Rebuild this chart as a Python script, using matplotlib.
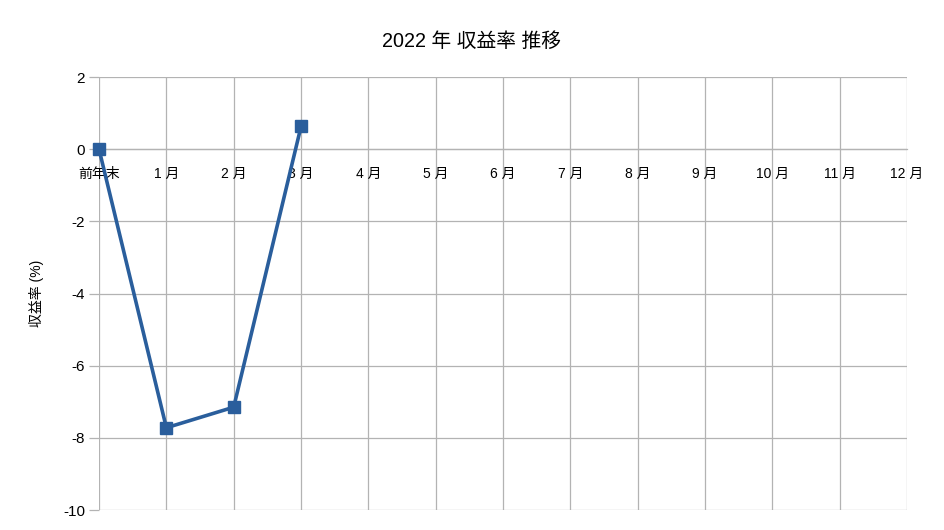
import matplotlib
matplotlib.use("Agg")
import matplotlib.pyplot as plt

plt.rcParams["font.family"] = ["Liberation Sans", "Noto Sans CJK JP", "DejaVu Sans"]

categories = ["前年末", "1 月", "2 月", "3 月", "4 月", "5 月", "6 月",
              "7 月", "8 月", "9 月", "10 月", "11 月", "12 月"]
returns = [0.0, -7.72, -7.15, 0.63]
y_ticks = [2, 0, -2, -4, -6, -8, -10]

LINE_COLOR = "#2a5e9c"
GRID_COLOR = "#b3b3b3"


def main() -> None:
    fig = plt.figure(figsize=(9.44, 5.30), dpi=100)
    ax = fig.add_axes([0.1049, 0.0377, 0.8560, 0.8170])

    x = list(range(len(categories)))
    ax.plot(x[:len(returns)], returns, color=LINE_COLOR, linewidth=2.6,
            marker="s", markersize=8, markerfacecolor=LINE_COLOR,
            markeredgecolor=LINE_COLOR, zorder=3, clip_on=False)

    ax.set_xlim(0, len(categories) - 1)
    ax.set_ylim(-10, 2)
    ax.set_yticks(y_ticks)
    ax.set_yticklabels([str(v) for v in y_ticks], fontsize=11)
    ax.set_xticks(x)
    ax.set_xticklabels(categories, fontsize=11)

    ax.grid(True, color=GRID_COLOR, linewidth=0.9)
    ax.set_axisbelow(True)
    for side in ("top", "right", "left"):
        ax.spines[side].set_visible(False)
    ax.spines["bottom"].set_position(("data", 0))
    ax.spines["bottom"].set_color(GRID_COLOR)
    ax.spines["bottom"].set_linewidth(0.9)
    ax.tick_params(axis="x", length=0, pad=13)
    ax.tick_params(axis="y", length=7, color=GRID_COLOR, width=0.9, pad=3)

    ax.set_ylabel("収益率 (%)", fontsize=10, labelpad=14)
    fig.suptitle("2022 年 収益率 推移", fontsize=14.2, y=0.94)

    fig.savefig("out.png", dpi=100)


if __name__ == "__main__":
    main()
